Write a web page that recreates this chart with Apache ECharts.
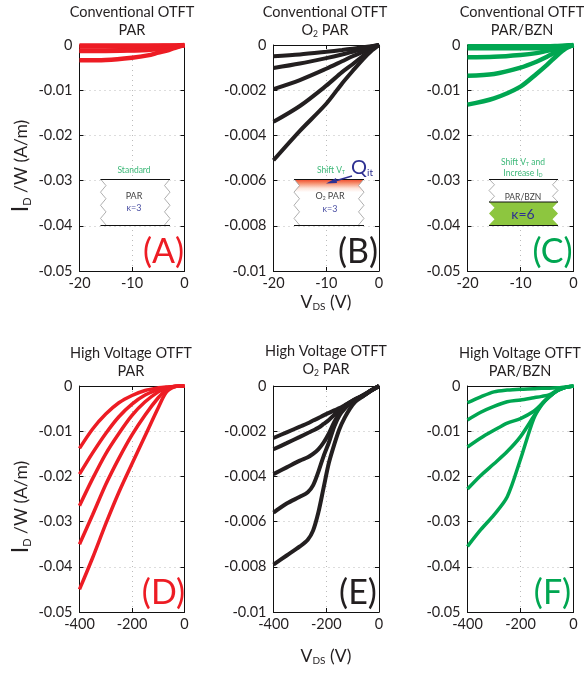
<!DOCTYPE html>
<html><head><meta charset="utf-8">
<style>html,body{margin:0;padding:0;background:#fff}#c{width:584px;height:673px}</style>
<script src="https://cdn.jsdelivr.net/npm/echarts@6/dist/echarts.min.js"></script>
</head><body><div id="c"></div>
<script>
const vdsA=[-20,-15,-10,-7,-5,-3,-1.5,0];
const curvesA=[
 [-.0001,-.0001,-.0001,-.0001,-.0001,-.0001,-.0001,0],
 [-.00025,-.00025,-.00025,-.00025,-.0002,-.00015,-.0001,0],
 [-.0012,-.0012,-.0011,-.001,-.0008,-.0005,-.0003,0],
 [-.0013,-.0013,-.0012,-.0011,-.0009,-.0006,-.0003,0],
 [-.0034,-.0033,-.0028,-.0023,-.0017,-.0011,-.0005,0]];
const vdsB=[-20,-15,-10,-7,-5,-3,-1.5,0];
const curvesB=[
 [-.0005,-.00042,-.0003,-.00022,-.00016,-.0001,-.00005,0],
 [-.00102,-.00082,-.00058,-.00042,-.0003,-.00018,-.00008,0],
 [-.00195,-.00155,-.00105,-.00072,-.0005,-.0003,-.00013,0],
 [-.0034,-.0027,-.0018,-.0012,-.00085,-.00048,-.00022,0],
 [-.0051,-.0038,-.0026,-.0017,-.00115,-.00062,-.00028,0]];
const vdsC=[-20,-15,-10,-7,-5,-3,-1.5,0];
const curvesC=[
 [-.0003,-.0003,-.0003,-.0003,-.0003,-.0002,-.0001,0],
 [-.0007,-.0007,-.0007,-.0007,-.0006,-.0004,-.0002,0],
 [-.0027,-.0026,-.0022,-.0018,-.0013,-.0008,-.0004,0],
 [-.0068,-.0064,-.005,-.0037,-.0026,-.0014,-.0006,0],
 [-.0132,-.0118,-.0092,-.0064,-.0044,-.0022,-.0008,0]];
const vdsD=[-400,-350,-300,-250,-200,-150,-100,-70,-40,-20,0];
const curvesD=[
 [-.0138,-.0095,-.0062,-.0037,-.0021,-.001,-.0004,-.0002,-.0001,0,0],
 [-.0195,-.0148,-.0105,-.0068,-.004,-.002,-.0008,-.0003,-.0001,0,0],
 [-.0265,-.0205,-.015,-.0105,-.0065,-.0035,-.0013,-.0005,-.0001,0,0],
 [-.035,-.0285,-.0218,-.016,-.0108,-.0064,-.0026,-.0009,-.0001,0,0],
 [-.045,-.038,-.0305,-.0235,-.0172,-.011,-.0048,-.0014,-.0002,0,0]];
const vdsE=[-400,-350,-300,-270,-250,-230,-210,-190,-170,-150,-130,-110,-90,-60,-30,0];
const curvesE=[
 [-.0023,-.00205,-.0018,-.00165,-.00153,-.00142,-.0013,-.00119,-.00108,-.00098,-.00085,-.00072,-.00058,-.00042,-.0002,0],
 [-.0028,-.00253,-.00225,-.00208,-.00197,-.00185,-.00168,-.0015,-.00128,-.00105,-.00088,-.00072,-.0006,-.00042,-.0002,0],
 [-.0039,-.0036,-.0033,-.00315,-.003,-.0028,-.0025,-.0021,-.0016,-.0012,-.00095,-.00075,-.0006,-.0004,-.0002,0],
 [-.0056,-.0052,-.0049,-.0047,-.0044,-.0038,-.0031,-.0025,-.0018,-.0013,-.001,-.00078,-.00062,-.00044,-.0002,0],
 [-.0079,-.0075,-.0071,-.0068,-.0064,-.0056,-.0045,-.0034,-.0026,-.0019,-.0014,-.001,-.0007,-.00045,-.0002,0]];
const vdsF=[-400,-350,-300,-250,-200,-150,-120,-90,-60,-30,0];
const curvesF=[
 [-.0037,-.0024,-.0013,-.0009,-.0007,-.0006,-.0005,-.0005,-.0004,-.0002,0],
 [-.0075,-.0058,-.0045,-.0035,-.0031,-.0026,-.0023,-.0019,-.0009,-.0003,0],
 [-.0135,-.0115,-.0098,-.0082,-.0072,-.0056,-.004,-.0023,-.001,-.0003,0],
 [-.0228,-.0198,-.0172,-.0145,-.0112,-.0067,-.004,-.0023,-.001,-.0003,0],
 [-.0355,-.0318,-.0285,-.0245,-.0162,-.0072,-.0042,-.0023,-.001,-.0003,0]];

const RED='#ed1c24',GREEN='#00a651',BLACK='#231f20',TXT='#231f20',BLUE='#2e3192',LGREEN='#3cb878';
const FONT='Lato,"Open Sans",sans-serif';
const panels=[
 {x:vdsA,c:curvesA,col:RED,l:79.5,t:45,w:105,h:226,xmin:-20,xint:10,ymin:-.05,yint:.01,lw:4.5,title:['Conventional OTFT','PAR'],tx:132,ty:12,letter:'(A)',lc:RED},
 {x:vdsB,c:curvesB,col:BLACK,l:273.5,t:45,w:105.5,h:226,xmin:-20,xint:10,ymin:-.01,yint:.002,lw:4,title:['Conventional OTFT','{n|O}{s|2}{n| PAR}'],tx:325,ty:12,letter:'(B)',lc:BLACK},
 {x:vdsC,c:curvesC,col:GREEN,l:467.5,t:45,w:106,h:226,xmin:-20,xint:10,ymin:-.05,yint:.01,lw:4.5,title:['Conventional OTFT','PAR/BZN'],tx:522,ty:12,letter:'(C)',lc:GREEN},
 {x:vdsD,c:curvesD,col:RED,l:79.5,t:386,w:105,h:226,xmin:-400,xint:200,ymin:-.05,yint:.01,lw:3.5,title:['High Voltage OTFT','PAR'],tx:131,ty:353,letter:'(D)',lc:RED},
 {x:vdsE,c:curvesE,col:BLACK,l:273.5,t:386,w:105.5,h:226,xmin:-400,xint:200,ymin:-.01,yint:.002,lw:4,title:['High Voltage OTFT','{n|O}{s|2}{n| PAR}'],tx:326,ty:351,letter:'(E)',lc:BLACK},
 {x:vdsF,c:curvesF,col:GREEN,l:467.5,t:386,w:106,h:226,xmin:-400,xint:200,ymin:-.05,yint:.01,lw:3.5,title:['High Voltage OTFT','PAR/BZN'],tx:520,ty:353,letter:'(F)',lc:GREEN}
];
const grid=[],xAxis=[],yAxis=[],series=[],graphic=[];
const TS=14.5;
const richT={n:{fontFamily:FONT,fontSize:TS,fill:TXT},s:{fontFamily:FONT,fontSize:8.5,fill:TXT,padding:[9,0,0,0]}};
function text(x,y,t,size,fill,extra){graphic.push(Object.assign({type:'text',x,y,silent:true,z:20,style:{text:t,fontFamily:FONT,fontSize:size,fill,align:'center',verticalAlign:'middle',rich:(extra&&extra.rich)||undefined}},extra&&extra.el||{}));}
function zig(x,dir,top,h,n){const p=[];for(let i=0;i<=n;i++){p.push([x+(i%2?dir*5.5:0),top+h*i/n]);}return p;}
function line(pts,stroke,lw){graphic.push({type:'polyline',silent:true,z:19,shape:{points:pts},style:{stroke,lineWidth:lw,fill:null}});}
function poly(pts,fill,z){graphic.push({type:'polygon',silent:true,z:z||18,shape:{points:pts},style:{fill}});}

panels.forEach((p,i)=>{
 grid.push({left:p.l,top:p.t,width:p.w,height:p.h,show:false});
 const tickIn={show:true,inside:true,length:4,lineStyle:{color:'#111',width:1}};
 const dotted={show:true,lineStyle:{type:[1,4],color:'#bbb',width:1}};
 const axLine={show:true,onZero:false,lineStyle:{color:'#111',width:1}};
 const lab={color:TXT,fontFamily:FONT,fontSize:14.5};
 xAxis.push({gridIndex:i,type:'value',min:p.xmin,max:0,interval:p.xint,position:'bottom',axisLine:axLine,axisTick:tickIn,splitLine:dotted,axisLabel:Object.assign({},lab,{margin:5,hideOverlap:false,showMinLabel:true,showMaxLabel:true})});
 xAxis.push({gridIndex:i,type:'value',min:p.xmin,max:0,interval:p.xint,position:'top',axisLine:axLine,axisTick:tickIn,splitLine:{show:false},axisLabel:{show:false}});
 yAxis.push({gridIndex:i,type:'value',min:p.ymin,max:0,interval:p.yint,position:'left',axisLine:axLine,axisTick:tickIn,splitLine:dotted,axisLabel:Object.assign({},lab,{margin:7,hideOverlap:false,showMinLabel:true,showMaxLabel:true,formatter:v=>String(+v.toFixed(4))})});
 yAxis.push({gridIndex:i,type:'value',min:p.ymin,max:0,interval:p.yint,position:'right',axisLine:axLine,axisTick:tickIn,splitLine:{show:false},axisLabel:{show:false}});
 p.c.forEach(vals=>{
  series.push({type:'line',xAxisIndex:i*2,yAxisIndex:i*2,data:vals.map((v,k)=>[p.x[k],v]),smooth:0.3,symbol:'none',lineStyle:{color:p.col,width:p.lw},silent:true,z:3});
 });
 text(p.tx,p.ty,p.title[0],TS,TXT);
 if(p.title[1].includes('{'))text(p.tx,p.ty+18,p.title[1],TS,TXT,{rich:richT});
 else text(p.tx,p.ty+18,p.title[1],TS,TXT);
 text(p.l+p.w-21,p.t+p.h-19,p.letter,34,p.lc);
});

/* axis titles */
const richY={a:{fontFamily:FONT,fontSize:23,fill:TXT},b:{fontFamily:FONT,fontSize:17.5,fill:TXT},s:{fontFamily:FONT,fontSize:11,fill:TXT,padding:[12,0,0,0]}};
[166,507].forEach(y=>text(21,y,'{a|I}{s|D}{b| /W (A/m)}',15,TXT,{rich:richY,el:{rotation:Math.PI/2}}));
const richX={b:{fontFamily:FONT,fontSize:17.5,fill:TXT},s:{fontFamily:FONT,fontSize:10,fill:TXT,padding:[10,0,0,0]}};
[302,656].forEach(y=>text(326,y,'{b|V}{s|DS}{b| (V)}',15,TXT,{rich:richX}));

function insetBg(L,R){poly([[L,179],[R,179],[R,225],[L,225]],'#fff',17);}
/* inset A */
insetBg(100.5,170);
line(zig(100.5,1,179,46,7),'#9a9a9a',.8);line(zig(170,-1,179,46,7),'#9a9a9a',.8);
line([[100.5,179.5],[170,179.5]],'#111',1);line([[100.5,225.5],[170,225.5]],'#111',1);
text(134,170,'Standard',8.5,LGREEN);text(134,196,'PAR',9,'#444');text(134,208,'κ=3',9,'#4a4fa3');

/* inset B */
insetBg(294,364);
(function(){
 const L=294,R=364,t=179,h=46,n=7,lim=3;
 const a=zig(L,1,t,h,n).slice(0,lim),b=zig(R,-1,t,h,n).slice(0,lim).reverse();
 poly(a.concat(b),{type:'linear',x:0,y:0,x2:0,y2:1,colorStops:[{offset:0,color:'#ef4123'},{offset:.3,color:'#f58a68'},{offset:.7,color:'#fde3d9'},{offset:1,color:'#ffffff'}]},18);
})();
line(zig(294,1,179,46,7),'#9a9a9a',.8);line(zig(364,-1,179,46,7),'#9a9a9a',.8);
line([[294,179.5],[364,179.5]],'#111',1);line([[294,225.5],[364,225.5]],'#111',1);
text(331,170,'{a|Shift V}{s|T}',8,LGREEN,{rich:{a:{fontFamily:FONT,fontSize:8.5,fill:LGREEN},s:{fontFamily:FONT,fontSize:5,fill:LGREEN,padding:[4,0,0,0]}}});
text(362,168,'{a|Q}{s|it}',18,BLUE,{rich:{a:{fontFamily:FONT,fontSize:20,fill:BLUE},s:{fontFamily:FONT,fontSize:10,fill:BLUE,padding:[10,0,0,0]}}});
line([[352,176],[335,181]],BLUE,1.4);
poly([[326,183.5],[336,178],[337,183]],BLUE,19);
text(330,196,'{a|O}{s|2}{a| PAR}',9,'#444',{rich:{a:{fontFamily:FONT,fontSize:9,fill:'#444'},s:{fontFamily:FONT,fontSize:5,fill:'#444',padding:[4,0,0,0]}}});
text(330,209,'κ=3',9,'#4a4fa3');

/* inset C */
(function(){
 const L=489,R=558,t=202,b=225,n=4;const pts=[];
 insetBg(L,R);
 for(let i=0;i<=n;i++)pts.push([L+(i%2?5.5:0),t+(b-t)*i/n]);
 for(let i=n;i>=0;i--)pts.push([R-(i%2?5.5:0),t+(b-t)*i/n]);
 poly(pts,'#8dc63f',18);
 line(zig(L,1,179,23,4),'#9a9a9a',.8);line(zig(R,-1,179,23,4),'#9a9a9a',.8);
 line([[L,179.5],[R,179.5]],'#111',1);line([[L,202],[R,202]],'#111',1);line([[L,225.5],[R,225.5]],'#111',1);
})();
const richG={a:{fontFamily:FONT,fontSize:8.5,fill:LGREEN},s:{fontFamily:FONT,fontSize:5,fill:LGREEN,padding:[4,0,0,0]}};
text(523,162,'{a|Shift V}{s|T}{a| and}',8,LGREEN,{rich:richG});
text(523,173,'{a|Increase I}{s|D}',8,LGREEN,{rich:richG});
text(523,197,'PAR/BZN',8.5,'#444');
text(523,214,'κ=6',14,BLUE);

const chart=echarts.init(document.getElementById('c'),null,{renderer:'canvas'});
chart.setOption({animation:false,backgroundColor:'#fff',grid,xAxis,yAxis,series,graphic});
</script></body></html>
